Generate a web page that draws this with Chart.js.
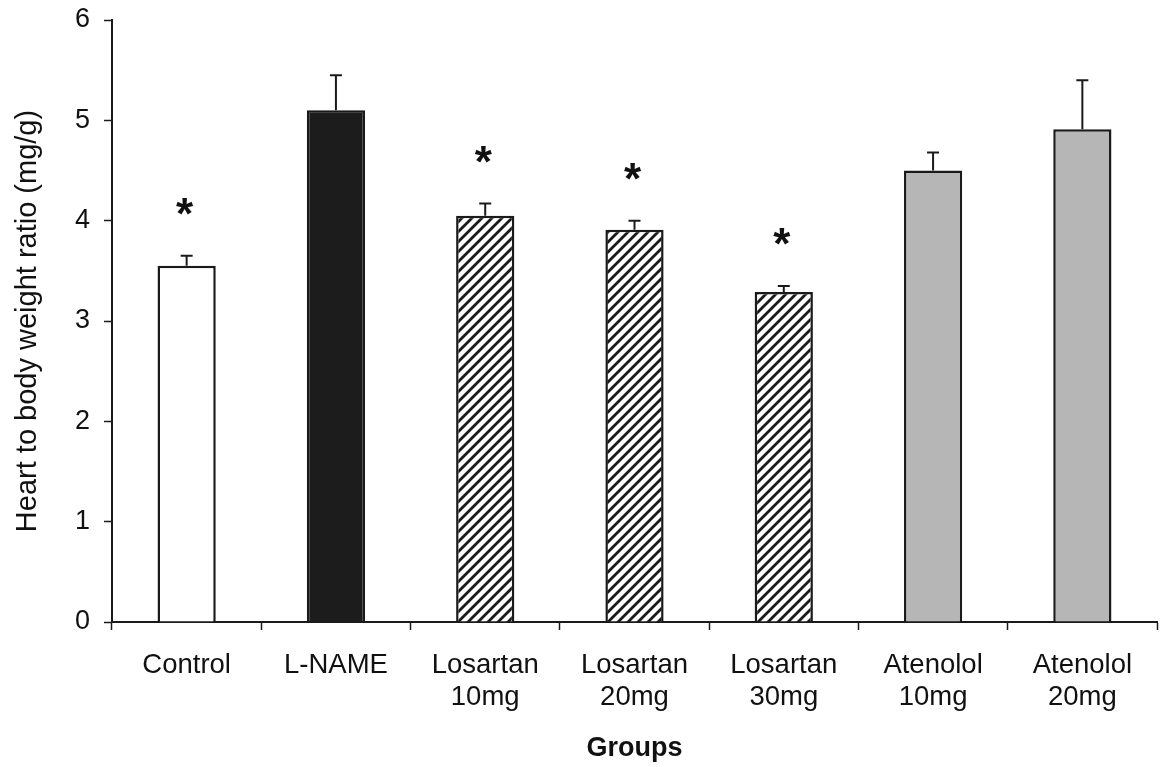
<!DOCTYPE html>
<html>
<head>
<meta charset="utf-8">
<script src="https://cdn.jsdelivr.net/npm/chart.js@4.4.1/dist/chart.umd.min.js"></script>
<style>
  html, body { margin: 0; padding: 0; background: #fff; }
  #wrap { width: 1162px; height: 767px; position: relative; }
</style>
</head>
<body>
<div id="wrap"><canvas id="chart"></canvas></div>
<script>
const groups = [
  ["Control"],
  ["L-NAME"],
  ["Losartan", "10mg"],
  ["Losartan", "20mg"],
  ["Losartan", "30mg"],
  ["Atenolol", "10mg"],
  ["Atenolol", "20mg"],
];
const means = [3.55, 5.10, 4.05, 3.91, 3.29, 4.50, 4.91];
const errors = [0.10, 0.35, 0.12, 0.09, 0.06, 0.18, 0.49];
const significant = [true, false, true, true, true, false, false];
const yTicks = [0, 1, 2, 3, 4, 5, 6];

const INK = "#1a1a1a";
const FONT = "'Liberation Sans', Arial, sans-serif";

function hatchPattern() {
  const size = 10;
  const c = document.createElement("canvas");
  c.width = size;
  c.height = size;
  const g = c.getContext("2d");
  g.fillStyle = "#fff";
  g.fillRect(0, 0, size, size);
  g.strokeStyle = INK;
  g.lineWidth = 2.8;
  g.beginPath();
  g.moveTo(-1, size + 1);
  g.lineTo(size + 1, -1);
  g.moveTo(-2, 2);
  g.lineTo(2, -2);
  g.moveTo(size - 2, size + 2);
  g.lineTo(size + 2, size - 2);
  g.stroke();
  return g.createPattern(c, "repeat");
}

const ctx = document.getElementById("chart").getContext("2d");
const hatch = hatchPattern();
const fills = ["#ffffff", "#1c1c1c", hatch, hatch, hatch, "#b6b6b6", "#b6b6b6"];

const errorBars = {
  id: "errorBars",
  afterDatasetsDraw(chart) {
    const c = chart.ctx;
    const meta = chart.getDatasetMeta(0);
    const y = chart.scales.y;
    c.save();
    c.strokeStyle = INK;
    c.fillStyle = "#111";
    c.lineWidth = 2;
    meta.data.forEach((bar, i) => {
      const top = y.getPixelForValue(means[i] + errors[i]);
      c.beginPath();
      c.moveTo(bar.x, bar.y);
      c.lineTo(bar.x, top);
      c.moveTo(bar.x - 6, top);
      c.lineTo(bar.x + 6, top);
      c.stroke();
      if (significant[i]) {
        c.font = "bold 44px " + FONT;
        c.textAlign = "center";
        c.textBaseline = "alphabetic";
        c.fillText("*", bar.x - 2, top - 27);
      }
    });
    c.restore();
  },
};

new Chart(ctx, {
  type: "bar",
  data: {
    labels: groups,
    datasets: [
      {
        data: means,
        backgroundColor: fills,
        borderColor: INK,
        borderWidth: 2.5,
        borderSkipped: "bottom",
        categoryPercentage: 1,
        barPercentage: 0.39,
      },
    ],
  },
  options: {
    responsive: true,
    maintainAspectRatio: false,
    animation: false,
    devicePixelRatio: 1,
    layout: { padding: { top: 20, right: 5, left: 0, bottom: 0 } },
    plugins: {
      legend: { display: false },
      tooltip: { enabled: false },
    },
    scales: {
      x: {
        grid: {
          offset: true,
          drawOnChartArea: false,
          drawTicks: true,
          tickLength: 8,
          tickWidth: 1.5,
          color: INK,
        },
        border: { display: true, color: INK, width: 2 },
        ticks: {
          color: "#111",
          font: { family: FONT, size: 27.5, lineHeight: 1.17 },
          padding: 19,
          maxRotation: 0,
          autoSkip: false,
        },
        title: {
          display: true,
          text: "Groups",
          color: "#111",
          font: { family: FONT, size: 27, weight: "bold" },
          padding: { top: 14, bottom: 2 },
        },
        afterFit(scale) {
          scale.height = 145;
          scale.paddingRight = 0;
          scale.paddingLeft = 0;
        },
      },
      y: {
        min: 0,
        max: 6,
        afterBuildTicks(scale) {
          scale.ticks = yTicks.map((v) => ({ value: v }));
        },
        grid: {
          drawOnChartArea: false,
          drawTicks: true,
          tickLength: 8,
          tickWidth: 1.5,
          color: INK,
        },
        border: { display: true, color: INK, width: 2 },
        ticks: {
          color: "#111",
          font: { family: FONT, size: 27 },
          padding: 14,
        },
        title: {
          display: true,
          text: "Heart to body weight ratio (mg/g)",
          color: "#111",
          font: { family: FONT, size: 29 },
          padding: { top: 11, bottom: 0 },
        },
        afterFit(scale) {
          scale.width = 112;
          scale.paddingTop = 0;
          scale.paddingBottom = 0;
        },
      },
    },
  },
  plugins: [errorBars],
});
</script>
</body>
</html>
